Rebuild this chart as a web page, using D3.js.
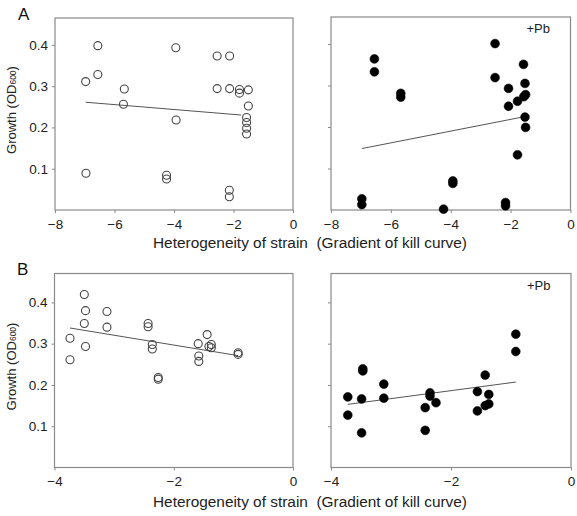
<!DOCTYPE html>
<html><head><meta charset="utf-8">
<script src="https://cdn.jsdelivr.net/npm/d3@7"></script>
<style>body{margin:0;background:#fff}svg{display:block;font-family:"Liberation Sans",Arial,sans-serif}</style>
</head><body><svg id="c" width="577" height="516"></svg>
<script>
// ---- data ----
const xTicksA = [-8, -6, -4, -2, 0];
const xTicksB = [-4, -2, 0];
const yTicks = [0.1, 0.2, 0.3, 0.4];

const aCtrlX = [-6.97,-6.56,-6.56,-5.67,-5.70,-6.96,-3.94,-3.93,-4.25,-4.25,-2.55,-2.13,-2.55,-2.13,-1.80,-1.80,-1.50,-1.50,-1.56,-1.56,-1.56,-1.56,-2.14,-2.14];
const aCtrlY = [0.311,0.398,0.328,0.293,0.256,0.089,0.393,0.218,0.084,0.075,0.373,0.373,0.294,0.294,0.292,0.283,0.291,0.252,0.224,0.212,0.198,0.184,0.048,0.032];
const aCtrlFitX = [-6.97, -1.74];
const aCtrlFitY = [0.261, 0.230];

const aPbX = [-2.52,-6.55,-6.55,-5.67,-5.67,-2.52,-1.57,-2.07,-1.52,-1.50,-1.56,-1.77,-2.07,-1.52,-1.50,-1.77,-3.93,-3.93,-4.24,-6.97,-6.97,-2.17,-2.17];
const aPbY = [0.401,0.364,0.333,0.281,0.272,0.319,0.351,0.293,0.305,0.278,0.273,0.262,0.250,0.224,0.199,0.133,0.070,0.064,0.002,0.027,0.013,0.018,0.010];
const aPbFitX = [-6.97, -1.67];
const aPbFitY = [0.148, 0.223];

const bCtrlX = [-3.50,-3.48,-3.50,-3.48,-3.74,-3.74,-3.12,-3.12,-2.43,-2.43,-2.36,-2.36,-2.26,-2.26,-1.59,-1.58,-1.58,-1.44,-1.37,-1.37,-1.41,-0.92,-0.92];
const bCtrlY = [0.419,0.380,0.349,0.293,0.313,0.261,0.378,0.340,0.349,0.341,0.298,0.287,0.218,0.214,0.300,0.270,0.257,0.322,0.298,0.290,0.293,0.278,0.274];
const bCtrlFitX = [-3.74, -0.92];
const bCtrlFitY = [0.338, 0.271];

const bPbX = [-0.92,-0.92,-1.43,-1.56,-1.37,-1.37,-1.43,-1.56,-2.35,-2.35,-2.25,-2.43,-2.43,-3.12,-3.12,-3.47,-3.47,-3.49,-3.49,-3.72,-3.72];
const bPbY = [0.323,0.281,0.224,0.184,0.177,0.154,0.150,0.137,0.181,0.173,0.157,0.145,0.090,0.202,0.168,0.239,0.234,0.166,0.084,0.171,0.127];
const bPbFitX = [-3.72, -0.92];
const bPbFitY = [0.153, 0.207];

// ---- layout ----
const svg = d3.select('#c');
const frameCol = '#8a8a8a';
const panels = [
  {xs:aCtrlX, ys:aCtrlY, fx:aCtrlFitX, fy:aCtrlFitY, L:55, R:293, T:18, B:210, xd:[-8,0], yd:[0,0.465], xt:xTicksA, filled:false, ylab:true},
  {xs:aPbX, ys:aPbY, fx:aPbFitX, fy:aPbFitY, L:331, R:570.5, T:17, B:210, xd:[-8,0], yd:[0,0.465], xt:xTicksA, filled:true, ylab:false},
  {xs:bCtrlX, ys:bCtrlY, fx:bCtrlFitX, fy:bCtrlFitY, L:54.5, R:293, T:273.5, B:467.5, xd:[-4,0], yd:[0,0.47], xt:xTicksB, filled:false, ylab:true},
  {xs:bPbX, ys:bPbY, fx:bPbFitX, fy:bPbFitY, L:331, R:571, T:273.5, B:467.5, xd:[-4,0], yd:[0,0.47], xt:xTicksB, filled:true, ylab:false}
];
const fmtX = d => d < 0 ? '\u2212' + Math.abs(d) : String(d);

panels.forEach(p => {
  const x = d3.scaleLinear().domain(p.xd).range([p.L, p.R]);
  const y = d3.scaleLinear().domain(p.yd).range([p.B, p.T]);
  const g = svg.append('g');
  g.append('rect').attr('x', p.L).attr('y', p.T).attr('width', p.R - p.L).attr('height', p.B - p.T)
    .attr('fill', 'none').attr('stroke', frameCol).attr('stroke-width', 1.2);
  const xa = g.append('g').attr('transform', `translate(0,${p.B})`)
    .call(d3.axisBottom(x).tickValues(p.xt).tickFormat(fmtX).tickSizeInner(3).tickSizeOuter(0).tickPadding(6));
  xa.select('.domain').remove();
  xa.selectAll('line').attr('stroke', frameCol);
  xa.selectAll('text').attr('font-size', 13.5).attr('fill', '#222').attr('font-family', '"Liberation Sans",Arial,sans-serif');
  const ya = g.append('g').attr('transform', `translate(${p.L},0)`)
    .call(d3.axisLeft(y).tickValues(yTicks).tickFormat(p.ylab ? d3.format('.1f') : () => '').tickSizeInner(3).tickSizeOuter(0).tickPadding(4));
  ya.select('.domain').remove();
  ya.selectAll('line').attr('stroke', frameCol);
  ya.selectAll('text').attr('font-size', 13.5).attr('fill', '#222').attr('font-family', '"Liberation Sans",Arial,sans-serif');
  g.append('line').attr('x1', x(p.fx[0])).attr('y1', y(p.fy[0])).attr('x2', x(p.fx[1])).attr('y2', y(p.fy[1]))
    .attr('stroke', '#555').attr('stroke-width', 1);
  g.selectAll('circle.pt').data(p.xs.map((v, i) => [v, p.ys[i]])).enter().append('circle')
    .attr('class', 'pt').attr('cx', d => x(d[0])).attr('cy', d => y(d[1]))
    .attr('r', p.filled ? 4.4 : 4)
    .attr('fill', p.filled ? '#000' : 'none')
    .attr('stroke', p.filled ? '#000' : '#444').attr('stroke-width', p.filled ? 0.6 : 1.1);
  if (p.filled) {
    g.append('text').attr('x', p.R - 44).attr('y', p.T + 16).attr('font-size', 13).attr('fill', '#222').text('+Pb');
  }
  if (p.ylab) {
    const cy = (p.T + p.B) / 2 - 4;
    const t = g.append('text').attr('transform', `translate(16,${cy}) rotate(-90)`)
      .attr('text-anchor', 'middle').attr('font-size', 13).attr('fill', '#222');
    t.append('tspan').text('Growth (OD');
    t.append('tspan').attr('font-size', 8.5).text('600');
    t.append('tspan').text(')');
  }
});

[248, 507].forEach(yy => {
  svg.append('text').attr('x', 153).attr('y', yy)
    .attr('font-size', 14).attr('fill', '#222').attr('xml:space', 'preserve')
    .attr('textLength', 314).attr('lengthAdjust', 'spacingAndGlyphs')
    .text('Heterogeneity of strain  (Gradient of kill curve)');
});
svg.append('text').attr('x', 18).attr('y', 20).attr('font-size', 17).attr('fill', '#111').text('A');
svg.append('text').attr('x', 17).attr('y', 275).attr('font-size', 17).attr('fill', '#111').text('B');
</script></body></html>
